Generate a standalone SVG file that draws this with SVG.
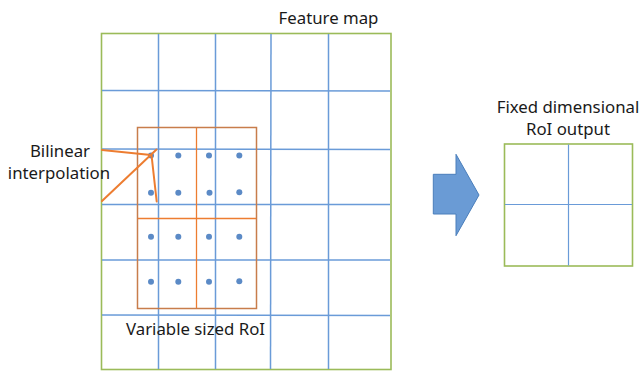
<svg xmlns="http://www.w3.org/2000/svg" width="640" height="371" viewBox="0 0 640 371">
<style>
.t{font-family:"Noto Sans","Open Sans","Liberation Sans",sans-serif;font-size:16.8px;fill:#1a1a1a}
.g{stroke:#6a9bd8;stroke-width:1.5;fill:none}
.fr{stroke:#9bbb59;stroke-width:1.6;fill:none}
.o{stroke:#ed7d31;stroke-width:1.3;fill:none}
.ob{stroke:#c87d4b;stroke-width:1.5;fill:none}
.d{fill:#5b8ac6}
.ol{stroke:#ed7d31;stroke-width:2;fill:none;stroke-linecap:round}
</style>
<rect width="640" height="371" fill="#ffffff"/>
<g id="feature-map">
<rect class="fr" x="101.5" y="33.5" width="289.5" height="336"/>
<g class="g">
<line x1="158.5" y1="34" x2="158.5" y2="369"/>
<line x1="215.5" y1="34" x2="215.5" y2="369"/>
<line x1="271" y1="34" x2="270.5" y2="369"/>
<line x1="328.5" y1="34" x2="328.5" y2="369"/>
<line x1="102" y1="90.5" x2="390" y2="91"/>
<line x1="102" y1="149" x2="390" y2="149.5"/>
<line x1="102" y1="204.5" x2="390" y2="204.5"/>
<line x1="102" y1="260" x2="390" y2="260"/>
<line x1="102" y1="315" x2="390" y2="315.5"/>
</g>
<text class="t" x="328.5" y="24" text-anchor="middle">Feature map</text>
</g>
<g id="roi">
<rect class="ob" x="137.5" y="127.5" width="119" height="181"/>
<line class="o" x1="196.5" y1="128" x2="196.5" y2="308"/>
<line class="o" x1="138" y1="218.5" x2="256" y2="218.5"/>
<g class="d">
<circle cx="151" cy="155.5" r="3"/><circle cx="178.3" cy="155.5" r="3"/><circle cx="209" cy="155.5" r="3"/><circle cx="239.3" cy="155.5" r="3"/>
<circle cx="151" cy="192.7" r="3"/><circle cx="178.3" cy="192.7" r="3"/><circle cx="209.5" cy="192.7" r="3"/><circle cx="239.3" cy="192.3" r="3"/>
<circle cx="151" cy="236.7" r="3"/><circle cx="178.3" cy="236.7" r="3"/><circle cx="209" cy="236.7" r="3"/><circle cx="239.3" cy="236.7" r="3"/>
<circle cx="151" cy="281.7" r="3"/><circle cx="178.3" cy="281.7" r="3"/><circle cx="209" cy="281.7" r="3"/><circle cx="239.3" cy="281.3" r="3"/>
</g>
<text class="t" x="126" y="335">Variable sized RoI</text>
</g>
<g id="bilinear">
<text class="t" x="60" y="156.5" text-anchor="middle">Bilinear</text>
<text class="t" x="59" y="179.3" text-anchor="middle">interpolation</text>
</g>
<g id="connectors">
<line class="ol" x1="102" y1="150" x2="151" y2="155"/>
<line class="ol" x1="102" y1="201" x2="156.5" y2="149.5"/>
<line class="ol" x1="151.5" y1="155" x2="156.7" y2="201.5"/>
<path id="arrow" d="M433.3 174.3 H456 V154.3 L479 195 L456 235.7 V214 H433.3 Z" fill="#6a9bd5" stroke="#4a7ebb" stroke-width="1"/>
</g>
<g id="output">
<rect class="fr" x="504.5" y="144" width="128" height="122"/>
<line class="g" x1="568.5" y1="144.5" x2="568.5" y2="265.5" style="stroke-width:1.2"/>
<line class="g" x1="505" y1="204.5" x2="632" y2="204.5" style="stroke-width:1.2"/>
<text class="t" x="568" y="113" text-anchor="middle">Fixed dimensional</text>
<text class="t" x="568" y="135" text-anchor="middle">RoI output</text>
</g>
</svg>
